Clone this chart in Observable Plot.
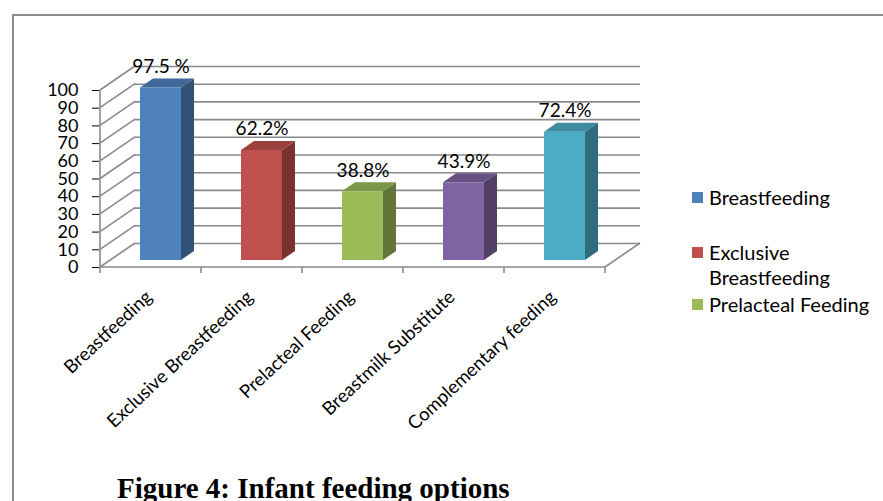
<!DOCTYPE html>
<html>
<head>
<meta charset="utf-8">
<script src="https://cdn.jsdelivr.net/npm/d3@7"></script>
<script src="https://cdn.jsdelivr.net/npm/@observablehq/plot@0.6"></script>
<style>
  body { margin: 0; background: #fff; }
  #wrap { position: relative; width: 883px; height: 501px; overflow: hidden; background: #fff; }
  #border { position: absolute; left: 12px; top: 14px; width: 1000px; height: 1000px;
            border-left: 2px solid #8c8c8c; border-top: 2px solid #8c8c8c; }
  #chart { position: absolute; left: 0; top: 0; }
  .leg { position: absolute; left: 692px; font-family: Lato, sans-serif; font-size: 20px;
         line-height: 25px; color: #000; width: 190px; }
  .leg .sw { position: absolute; left: 0; top: 7px; width: 11px; height: 11px; }
  .leg .tx { position: absolute; left: 17px; top: 0; width: 172px; }
  #caption { position: absolute; left: 117px; top: 474px; font-family: "Liberation Serif", "Times New Roman", serif;
             font-weight: bold; font-size: 29px; line-height: 29px; color: #000; white-space: nowrap; }
</style>
</head>
<body>
<div id="wrap">
  <div id="border"></div>
  <div id="chart"></div>
  <div id="legend"></div>
  <div id="caption"></div>
</div>
<script>
// ---- data ----
const categories = ["Breastfeeding", "Exclusive Breastfeeding", "Prelacteal Feeding", "Breastmilk Substitute", "Complementary feeding"];
const values = [97.5, 62.2, 38.8, 43.9, 72.4];
const valueLabels = ["97.5 %", "62.2%", "38.8%", "43.9%", "72.4%"];
const yTicks = [0, 10, 20, 30, 40, 50, 60, 70, 80, 90, 100];
const legendItems = ["Breastfeeding", "Exclusive Breastfeeding", "Prelacteal Feeding"];
const captionText = "Figure 4: Infant feeding options";

// ---- style ----
const palette = ["#4F81BD", "#C0504D", "#9BBB59", "#8064A2", "#4BACC6"];
const gridColor = "#8a8a8a";
const FONT = "Lato, 'Open Sans', sans-serif";
// 3D geometry (pixels)
const WALL_DX = 35, WALL_DY = -24;   // back wall offset
const BAR_DX = 10, BAR_DY = -7;      // bar placement within depth
const DEPTH_DX = 13, DEPTH_DY = -9;  // bar depth
const BAR_INSET = 30;

const rows = categories.map((c, i) => ({category: c, value: values[i], label: valueLabels[i]}));

function getScales(args) {
  return args.find(a => a && typeof a.x === "function" && typeof a.y === "function");
}

// Walls, axis lines and tick marks of the 3D chart
function walls(...args) {
  const s = getScales(args);
  const x = s.x, y = s.y;
  const bw = x.bandwidth ? x.bandwidth() : (x(categories[1]) - x(categories[0]));
  const x0 = x(categories[0]);
  const x1 = x(categories[categories.length - 1]) + bw;
  const g = d3.create("svg:g").attr("stroke", gridColor).attr("stroke-width", 1.6).attr("fill", "none");
  for (const t of yTicks) {
    g.append("line").attr("x1", x0).attr("y1", y(t)).attr("x2", x0 + WALL_DX).attr("y2", y(t) + WALL_DY);
  }
  g.append("line").attr("x1", x1).attr("y1", y(0)).attr("x2", x1 + WALL_DX).attr("y2", y(0) + WALL_DY);
  g.append("line").attr("x1", x0).attr("y1", y(0)).attr("x2", x0).attr("y2", y(100));
  g.append("line").attr("x1", x0).attr("y1", y(0)).attr("x2", x1).attr("y2", y(0));
  const bounds = categories.map(c => x(c)).concat([x1]);
  for (const b of bounds) {
    g.append("line").attr("x1", b).attr("y1", y(0)).attr("x2", b).attr("y2", y(0) + 6);
  }
  return g.node();
}

// top and side faces of the 3D bars
function barFaces(...args) {
  const s = getScales(args);
  const x = s.x, y = s.y;
  const bw = x.bandwidth ? x.bandwidth() : (x(categories[1]) - x(categories[0]));
  const g = d3.create("svg:g");
  rows.forEach((r, i) => {
    const L = x(r.category) + BAR_INSET + BAR_DX;
    const R = x(r.category) + bw - BAR_INSET + BAR_DX;
    const yt = y(r.value) + BAR_DY;
    const yb = y(0) + BAR_DY;
    const base = d3.color(palette[i]);
    const side = base.darker(1.3).formatHex();
    const top = base.darker(0.6).formatHex();
    g.append("polygon")
      .attr("points", [[R, yb], [R + DEPTH_DX, yb + DEPTH_DY], [R + DEPTH_DX, yt + DEPTH_DY], [R, yt]].join(" "))
      .attr("fill", side);
    g.append("polygon")
      .attr("points", [[L, yt], [L + DEPTH_DX, yt + DEPTH_DY], [R + DEPTH_DX, yt + DEPTH_DY], [R, yt]].join(" "))
      .attr("fill", top);
  });
  return g.node();
}

const H = 440;
const chart = Plot.plot({
  width: 883,
  height: H,
  marginLeft: 99,
  marginRight: 278,
  marginTop: 90,
  marginBottom: H - 267,
  style: {fontFamily: FONT, fontSize: "18px", color: "#000", background: "transparent", overflow: "visible"},
  x: {type: "band", domain: categories, padding: 0, axis: null},
  y: {domain: [0, 100], ticks: yTicks, tickSize: 7, tickPadding: 14, label: null, tickFormat: d => String(d)},
  color: {domain: categories, range: palette},
  marks: [
    Plot.ruleY(yTicks, {dx: WALL_DX, dy: WALL_DY, stroke: gridColor, strokeWidth: 1.6, strokeOpacity: 1}),
    walls,
    barFaces,
    Plot.barY(rows, {x: "category", y: "value", fill: "category", insetLeft: BAR_INSET, insetRight: BAR_INSET, dx: BAR_DX, dy: BAR_DY}),
    Plot.text(rows, {x: "category", y: "value", text: "label", dx: BAR_DX, dy: BAR_DY - 21, fontSize: 19, fill: "#000"}),
    Plot.text(categories, {x: d => d, frameAnchor: "bottom", text: d => d, rotate: -43, textAnchor: "end",
                           dx: 2, dy: 31, fontSize: 18.5, fill: "#000"})
  ]
});
document.getElementById("chart").appendChild(chart);

// legend
const legendTops = [185, 240, 292];
const legendEl = document.getElementById("legend");
legendItems.forEach((name, i) => {
  const item = document.createElement("div");
  item.className = "leg";
  item.style.top = legendTops[i] + "px";
  const sw = document.createElement("div");
  sw.className = "sw";
  sw.style.background = palette[categories.indexOf(name)];
  const tx = document.createElement("div");
  tx.className = "tx";
  tx.textContent = name;
  item.appendChild(sw);
  item.appendChild(tx);
  legendEl.appendChild(item);
});
document.getElementById("caption").textContent = captionText;
</script>
</body>
</html>
